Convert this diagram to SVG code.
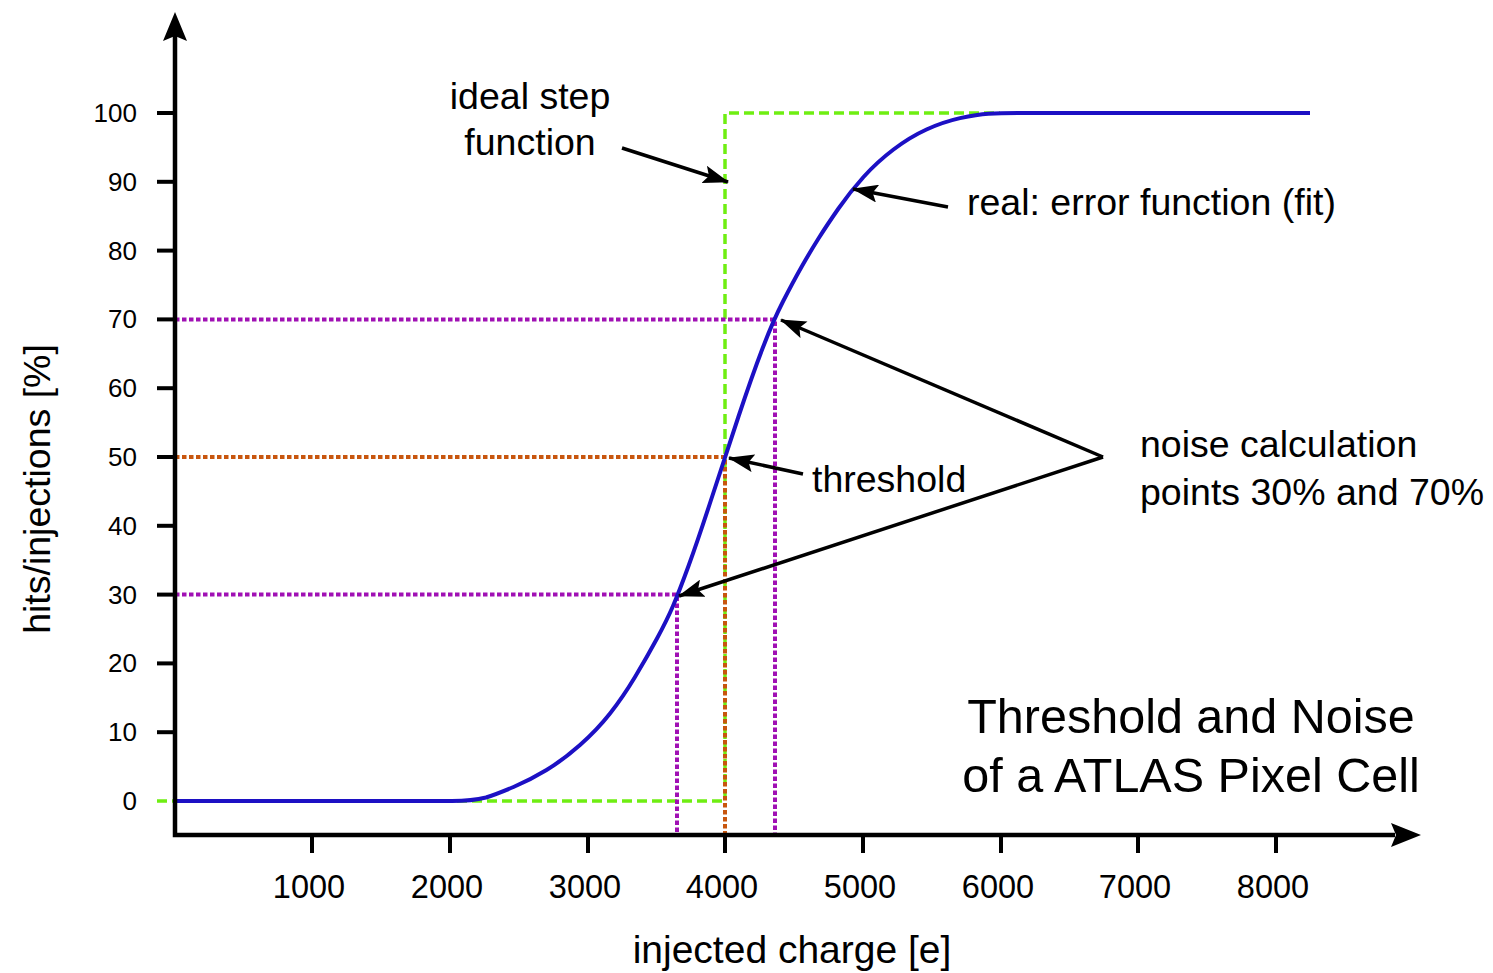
<svg xmlns="http://www.w3.org/2000/svg" width="1493" height="973" viewBox="0 0 1493 973">
<style>
  text { font-family: "Liberation Sans", Arial, Helvetica, sans-serif; fill: #000; }
  .ytl { font-size: 26px; text-anchor: end; }
  .xtl { font-size: 32.5px; text-anchor: middle; }
  .lbl { font-size: 37.5px; }
  .title { font-size: 48.5px; text-anchor: middle; }
  .step { fill: none; stroke: #6fee12; stroke-width: 3.5; stroke-dasharray: 10 5; }
  .thr { fill: none; stroke: #c8560e; stroke-width: 4; stroke-dasharray: 4.5 2.5; }
  .noise { fill: none; stroke: #a010b4; stroke-width: 4; stroke-dasharray: 4.5 2.5; }
  .curve { fill: none; stroke: #1c10c4; stroke-width: 4; stroke-linejoin: round; }
  .axis { fill: none; stroke: #000; stroke-width: 4.5; }
  .tick { stroke: #000; stroke-width: 4; }
  .ptr { fill: none; stroke: #000; stroke-width: 3.5; marker-end: url(#ah); }
</style>
<defs>
  <marker id="ah" viewBox="0 0 26 18" refX="25" refY="9" markerWidth="26" markerHeight="18" markerUnits="userSpaceOnUse" orient="auto">
    <path d="M0,0 L26,9 L0,18 L5,9 Z" fill="#000"/>
  </marker>
</defs>

<g id="guides">
  <path class="step" d="M157,801 H725 V113 H1000"/>
  <path class="thr" d="M175,457 H725 V835"/>
  <path class="noise" d="M175,319.4 H775 V835"/>
  <path class="noise" d="M175,594.6 H677 V835"/>
</g>

<g id="curve">
  <path class="curve" d="M177,801 L452,801 Q472,801 486,797.5 Q497,794 513.5,787 Q530,780 546.5,770 Q563,760 580,745 Q597,730 610,713.5 Q623,697 635,677 Q647,657 657,638.5 Q667,620 673,606 Q679,592 688.5,566 Q698,540 711.5,498.5 Q725,457 738.5,416.5 Q752,376 762.5,348.5 Q773,321 783,301.5 Q793,282 801.5,267 Q810,252 818.5,238.5 Q827,225 838.5,208.5 Q850,192 863.5,177 Q877,162 893.5,149.5 Q910,137 926.5,129.5 Q943,122 960,118.15 Q977,114.3 988.5,113.65 Q1000,113 1020,113 L1310,113"/>
</g>

<g id="axes">
  <path class="axis" d="M175,32 V835 H1395"/>
  <path d="M175,12 L187,41 L175,36 L163,41 Z" fill="#000"/>
  <path d="M1421,835 L1391,847 L1396,835 L1391,823 Z" fill="#000"/>
  <g id="yticks">
    <line class="tick" x1="157" y1="113" x2="175" y2="113"/>
    <line class="tick" x1="157" y1="181.8" x2="175" y2="181.8"/>
    <line class="tick" x1="157" y1="250.6" x2="175" y2="250.6"/>
    <line class="tick" x1="157" y1="319.4" x2="175" y2="319.4"/>
    <line class="tick" x1="157" y1="388.2" x2="175" y2="388.2"/>
    <line class="tick" x1="157" y1="457" x2="175" y2="457"/>
    <line class="tick" x1="157" y1="525.8" x2="175" y2="525.8"/>
    <line class="tick" x1="157" y1="594.6" x2="175" y2="594.6"/>
    <line class="tick" x1="157" y1="663.4" x2="175" y2="663.4"/>
    <line class="tick" x1="157" y1="732.2" x2="175" y2="732.2"/>
    <text class="ytl" x="137" y="122">100</text>
    <text class="ytl" x="137" y="190.8">90</text>
    <text class="ytl" x="137" y="259.6">80</text>
    <text class="ytl" x="137" y="328.4">70</text>
    <text class="ytl" x="137" y="397.2">60</text>
    <text class="ytl" x="137" y="466">50</text>
    <text class="ytl" x="137" y="534.8">40</text>
    <text class="ytl" x="137" y="603.6">30</text>
    <text class="ytl" x="137" y="672.4">20</text>
    <text class="ytl" x="137" y="741.2">10</text>
    <text class="ytl" x="137" y="810">0</text>
  </g>
  <g id="xticks">
    <line class="tick" x1="312" y1="835" x2="312" y2="853"/>
    <line class="tick" x1="450" y1="835" x2="450" y2="853"/>
    <line class="tick" x1="588" y1="835" x2="588" y2="853"/>
    <line class="tick" x1="725" y1="835" x2="725" y2="853"/>
    <line class="tick" x1="863" y1="835" x2="863" y2="853"/>
    <line class="tick" x1="1001" y1="835" x2="1001" y2="853"/>
    <line class="tick" x1="1138" y1="835" x2="1138" y2="853"/>
    <line class="tick" x1="1276" y1="835" x2="1276" y2="853"/>
    <text class="xtl" x="309" y="898">1000</text>
    <text class="xtl" x="447" y="898">2000</text>
    <text class="xtl" x="585" y="898">3000</text>
    <text class="xtl" x="722" y="898">4000</text>
    <text class="xtl" x="860" y="898">5000</text>
    <text class="xtl" x="998" y="898">6000</text>
    <text class="xtl" x="1135" y="898">7000</text>
    <text class="xtl" x="1273" y="898">8000</text>
  </g>
  <text id="xlabel" class="lbl" x="792" y="963" text-anchor="middle" style="font-size:39px">injected charge [e]</text>
  <text id="ylabel" class="lbl" transform="translate(50,489) rotate(-90)" text-anchor="middle">hits/injections [%]</text>
</g>

<g id="connectors">
  <path class="ptr" d="M622,148 L728,182"/>
  <path class="ptr" d="M948,207 L853,189"/>
  <path class="ptr" d="M803,474 L729,458"/>
  <path class="ptr" d="M1103,457 L781,320"/>
  <path class="ptr" d="M1103,457 L679,596"/>
</g>

<g id="label-step">
  <text class="lbl" x="530" y="109" text-anchor="middle">ideal step</text>
  <text class="lbl" x="530" y="155" text-anchor="middle">function</text>
</g>
<g id="label-real">
  <text class="lbl" x="967" y="215">real: error function (fit)</text>
</g>
<g id="label-threshold">
  <text class="lbl" x="812" y="492">threshold</text>
</g>
<g id="label-noise">
  <text class="lbl" x="1140" y="457">noise calculation</text>
  <text class="lbl" x="1140" y="505">points 30% and 70%</text>
</g>
<g id="title">
  <text class="title" x="1191" y="733">Threshold and Noise</text>
  <text class="title" x="1191" y="792">of a ATLAS Pixel Cell</text>
</g>
</svg>
